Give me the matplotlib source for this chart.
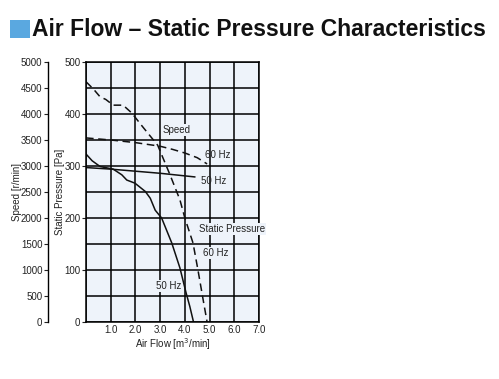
import matplotlib.pyplot as plt
from matplotlib.patches import Rectangle

plt.rcParams['font.family'] = ['Liberation Sans', 'DejaVu Sans']

# Static pressure curves [Pa] vs air flow [m3/min]
sp60_flow = [0.0, 0.3, 0.57, 0.8, 1.1, 1.5, 1.85, 2.3, 2.9, 3.4, 3.8, 4.0, 4.33, 4.53, 4.75, 4.9]
sp60_pa = [462, 448, 433, 428, 417, 417, 402, 375, 340, 283, 235, 200, 152, 100, 40, 0]
sp50_flow = [0.0, 0.25, 0.57, 1.1, 1.45, 1.65, 1.98, 2.4, 2.6, 2.8, 3.06, 3.47, 3.8, 4.05, 4.2, 4.35]
sp50_pa = [323, 310, 299, 294, 283, 273, 267, 251, 238, 215, 200, 152, 104, 56, 30, 0]

# Speed curves [r/min] vs air flow
spd60_flow = [0.0, 1.0, 2.0, 3.0, 3.5, 4.0, 4.5, 4.9]
spd60_rpm = [3540, 3500, 3450, 3380, 3320, 3250, 3160, 3040]
spd50_flow = [0.0, 1.0, 2.0, 3.0, 4.4]
spd50_rpm = [2970, 2940, 2900, 2860, 2790]

xticks = [1.0, 2.0, 3.0, 4.0, 5.0, 6.0, 7.0]

bg = '#eef3fa'
txt = '#222222'

fig = plt.figure(figsize=(4.99, 3.79), dpi=100)

ax = fig.add_axes([86 / 499, 57 / 379, 173 / 499, 260 / 379])
ax.set_facecolor(bg)
ax.set_xlim(0, 7)
ax.set_ylim(0, 500)
ax.set_xticks(xticks)
ax.set_xticklabels(['%.1f' % v for v in xticks])
ax.set_xticks([0.0], minor=True)
ax.set_yticks(range(0, 501, 100))
ax.set_yticks(range(0, 501, 50), minor=True)
ax.grid(True, which='both', color='black', linewidth=1.1)
ax.tick_params(axis='both', which='major', labelsize=7, length=3, pad=1, colors=txt)
ax.tick_params(axis='x', length=0, pad=2)
ax.tick_params(which='minor', length=0)
for s in ax.spines.values():
    s.set_linewidth(1.1)

# speed curves plotted on the pressure scale (1 Pa = 10 r/min)
ax.plot(spd60_flow, [v / 10 for v in spd60_rpm], color='#111111', lw=1.1, ls=(0, (5, 3)))
ax.plot(spd50_flow, [v / 10 for v in spd50_rpm], color='#111111', lw=1.1)
ax.plot(sp60_flow, sp60_pa, color='#111111', lw=1.1, ls=(0, (5, 3)))
ax.plot(sp50_flow, sp50_pa, color='#111111', lw=1.1)

box = dict(facecolor=bg, edgecolor='none', pad=0.5)
lbl = dict(fontsize=7, color=txt, va='center', ha='left')
ax.text(3.1, 369, 'Speed', bbox=box, **lbl)
ax.text(4.82, 321, '60 Hz', **lbl)
ax.text(4.66, 271, '50 Hz', **lbl)
ax.text(4.57, 179, 'Static Pressure', bbox=box, **lbl)
ax.text(4.74, 133, '60 Hz', bbox=box, **lbl)
ax.text(2.83, 69, '50 Hz', bbox=box, **lbl)

ax.set_xlabel('Air Flow [m$^3$/min]', fontsize=7, color=txt, labelpad=1)
fig.text(60 / 499, 1 - 192 / 379, 'Static Pressure [Pa]', rotation=90,
         fontsize=7, color=txt, ha='center', va='center')

# separate speed axis on the far left
ax2 = fig.add_axes([48 / 499, 57 / 379, 0.001, 260 / 379])
ax2.set_ylim(0, 5000)
ax2.set_yticks(range(0, 5001, 500))
ax2.set_xticks([])
for k in ['top', 'right', 'bottom']:
    ax2.spines[k].set_visible(False)
ax2.spines['left'].set_linewidth(1.0)
ax2.patch.set_visible(False)
ax2.tick_params(axis='y', labelsize=7, length=3, pad=1, colors=txt)
fig.text(17 / 499, 1 - 192 / 379, 'Speed [r/min]', rotation=90,
         fontsize=7, color=txt, ha='center', va='center')

# title with blue square marker
fig.patches.append(Rectangle((10 / 499, 1 - 38 / 379), 20 / 499, 18 / 379,
                             transform=fig.transFigure, facecolor='#5aa8e0', edgecolor='none'))
fig.text(32 / 499, 1 - 29 / 379, 'Air Flow \u2013 Static Pressure Characteristics',
         fontsize=16.5, fontweight='bold', va='center', ha='left', color='#111111')

fig.savefig('out.png', dpi=100)
